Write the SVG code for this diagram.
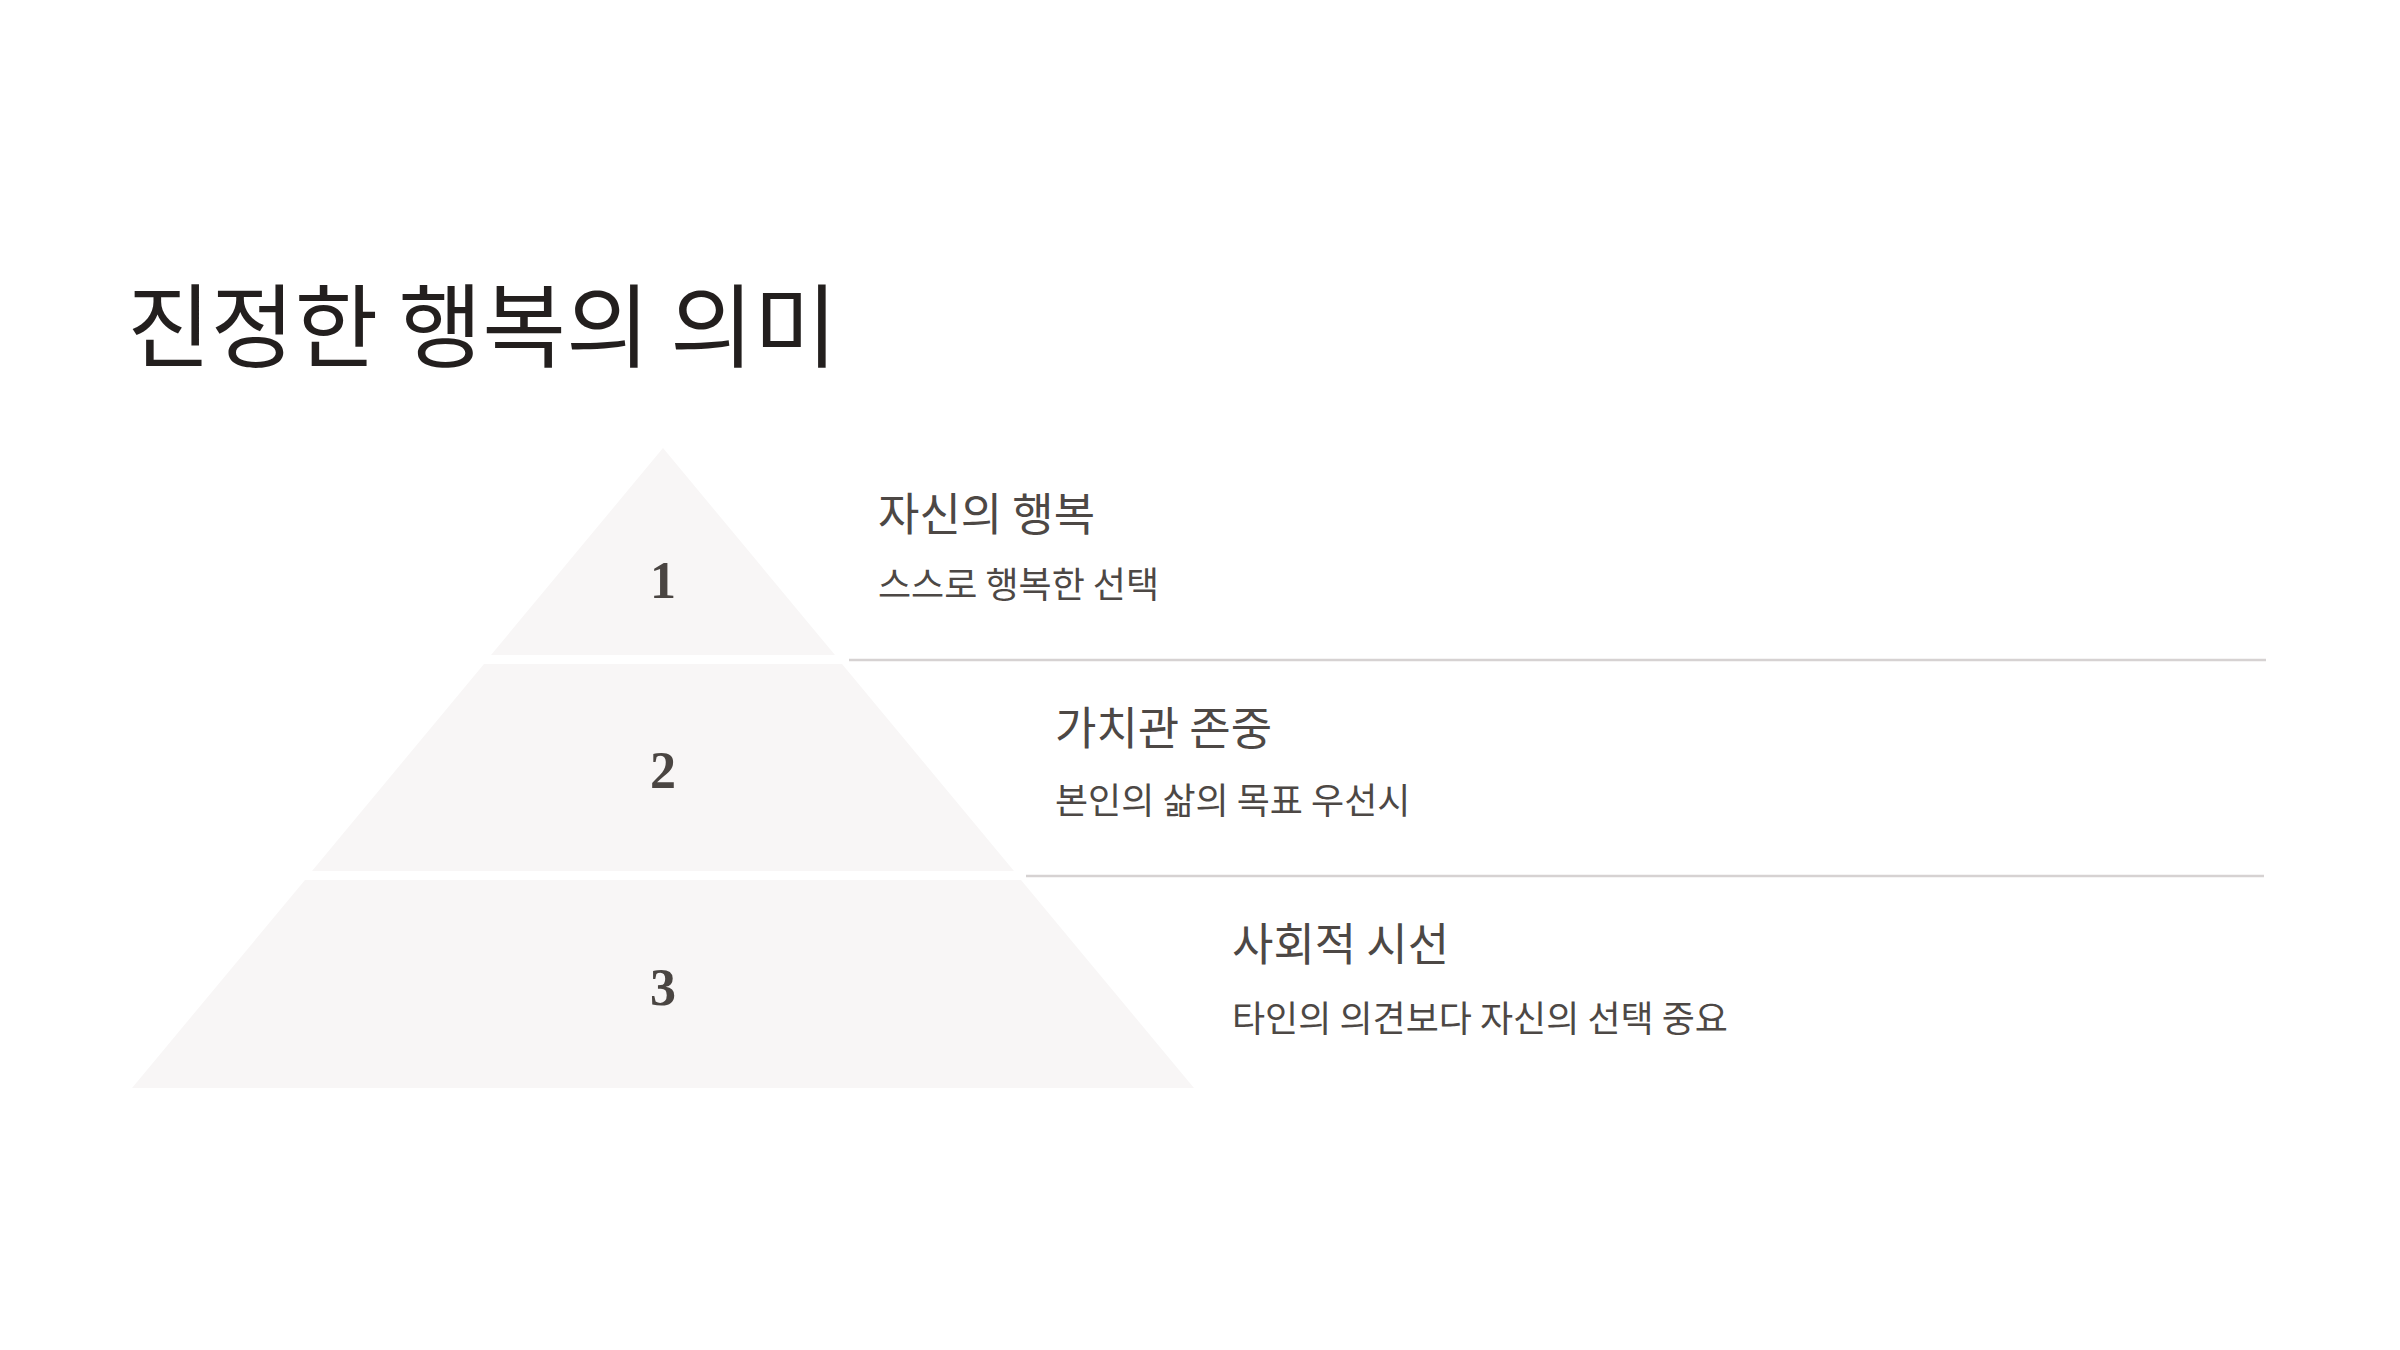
<svg xmlns="http://www.w3.org/2000/svg" width="2400" height="1350" viewBox="0 0 2400 1350">
<style>
.title{font-family:"Noto Sans CJK KR","Noto Sans",sans-serif;font-size:91px;fill:#231f1e}
.tier{fill:#f8f6f6}
.num{font-family:"Liberation Serif","DejaVu Serif",serif;font-weight:bold;font-size:52px;fill:#4a4542;text-anchor:middle}
.head{font-family:"Noto Sans CJK KR","Noto Sans",sans-serif;font-size:45px;fill:#4d4845}
.sub{font-family:"Noto Sans CJK KR","Noto Sans",sans-serif;font-size:36px;fill:#4d4845}
.sep{stroke:#d6d2d2;stroke-width:2.5}
</style>
<rect width="2400" height="1350" fill="#ffffff"/>
<text class="title" x="127" y="360">진정한 행복의 의미</text>
<g id="tier1">
<polygon class="tier" points="663,448 835,655 491,655"/>
<text class="num" x="663" y="598">1</text>
<text class="head" x="878" y="531">자신의 행복</text>
<text class="sub" x="878" y="598">스스로 행복한 선택</text>
</g>
<g id="tier2">
<polygon class="tier" points="484,664 842,664 1014,871 312,871"/>
<text class="num" x="663" y="788">2</text>
<text class="head" x="1055" y="745">가치관 존중</text>
<text class="sub" x="1055" y="814">본인의 삶의 목표 우선시</text>
</g>
<g id="tier3">
<polygon class="tier" points="305,880 1021,880 1194,1088 132,1088"/>
<text class="num" x="663" y="1005">3</text>
<text class="head" x="1232" y="961">사회적 시선</text>
<text class="sub" x="1232" y="1032">타인의 의견보다 자신의 선택 중요</text>
</g>
<g id="connectors">
<line class="sep" x1="849" y1="660" x2="2266" y2="660"/>
<line class="sep" x1="1026" y1="876" x2="2264" y2="876"/>
</g>
</svg>
